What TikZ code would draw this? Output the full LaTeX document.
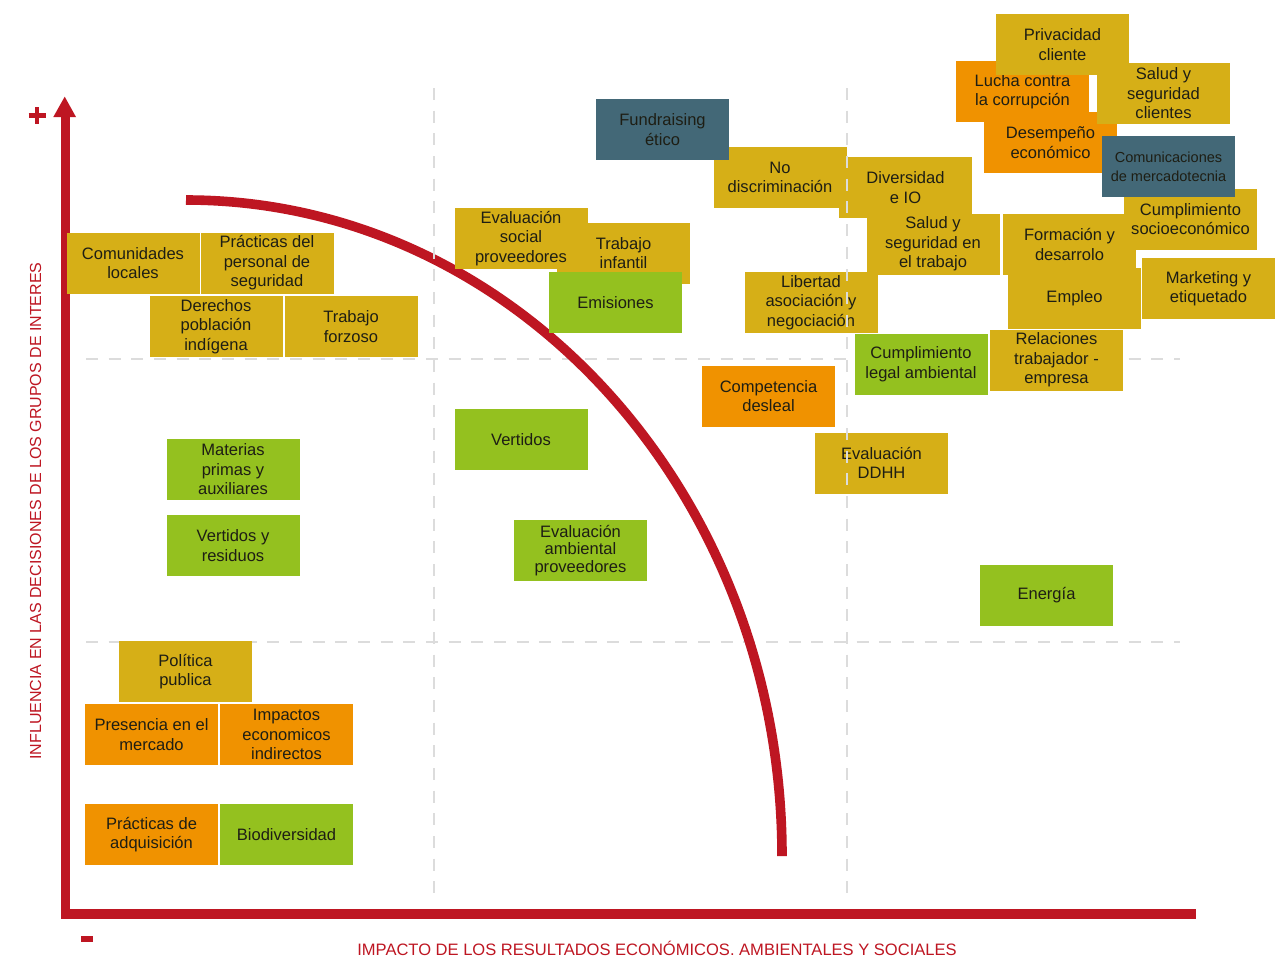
\documentclass[tikz,border=0pt]{standalone}
\usepackage{fontspec}
\setmainfont{Liberation Sans}
\definecolor{gold}{HTML}{D6AF17}
\definecolor{orng}{HTML}{F09200}
\definecolor{grn}{HTML}{94C11F}
\definecolor{tealbox}{HTML}{436877}
\definecolor{axred}{HTML}{BE1622}
\definecolor{gridgray}{HTML}{DCDCDC}
\definecolor{txt}{HTML}{1E1E14}
\tikzset{
  box/.style={minimum width=99.75pt, minimum height=45.75pt, inner sep=0pt, align=center, text=txt,
    font=\fontsize{12.4pt}{14.6pt}\selectfont},
  goldbox/.style={box, fill=gold},
  orbox/.style={box, fill=orng},
  grbox/.style={box, fill=grn},
  tlbox/.style={box, fill=tealbox},
  gridline/.style={draw=gridgray, line width=1.5pt, dash pattern=on 9pt off 8pt},
  axisline/.style={draw=axred, line width=7.2pt},
  axislabel/.style={text=axred, inner sep=0pt, font=\fontsize{12pt}{14pt}\selectfont},
}
\begin{document}
\begin{tikzpicture}[x=0.75pt, y=-0.75pt]
\useasboundingbox (0,0) rectangle (1281,957);
\fill[white] (0,0) rectangle (1281,957);

% horizontal grid lines (under boxes)
\coordinate (h1a) at (86,358.5);  \coordinate (h1b) at (1180,358.5);
\coordinate (h2a) at (86,641.5);  \coordinate (h2b) at (1180,641.5);
\draw[gridline] (h1a) -- (h1b);
\draw[gridline] (h2a) -- (h2b);

% materiality curve
\coordinate (cs) at (186,200);
\coordinate (ce) at (782,856);
\draw[draw=axred, line width=7.2pt] (cs) .. controls (515.2,200) and (782,493.7) .. (ce);

% axes
\coordinate (ytop) at (65.3,116);
\coordinate (orig) at (65.3,914);
\coordinate (xend) at (1196,914);
\draw[axisline, miter limit=4] (ytop) -- (orig) -- (xend);
\fill[axred] (53.3,117) -- (76,117) -- (64.7,96.7) -- cycle;
\draw[draw=axred, line width=3.2pt] (28.5,115.5) -- (45.5,115.5) (37,107) -- (37,124);
\fill[axred] (81,936) rectangle (93,942);

\node[axislabel, rotate=90] (ylab) at (35.5,511) {INFLUENCIA EN LAS DECISIONES DE LOS GRUPOS DE INTERES};
\node[axislabel, anchor=base, font=\fontsize{12.4pt}{14pt}\selectfont] (xlab) at (657,955) {IMPACTO DE LOS RESULTADOS ECONÓMICOS. AMBIENTALES Y SOCIALES};

% boxes
\node[goldbox] (comunidades) at (133,263) {Comunidades\\locales};
\node[goldbox] (practseg) at (267,263) {Prácticas del\\personal de\\seguridad};
\node[goldbox] (derechos) at (216,326.5) {Derechos\\población\\indígena};
\node[goldbox] (forzoso) at (351,326.5) {Trabajo\\forzoso};

\node[grbox] (materias) at (233,469.5) {Materias\\primas y\\auxiliares};
\node[grbox] (vertres) at (233,545.5) {Vertidos y\\residuos};

\node[goldbox] (politica) at (185.5,671.5) {Política\\publica};
\node[orbox] (presencia) at (151.5,734.5) {Presencia en el\\mercado};
\node[orbox] (impactos) at (286.5,734.5) {Impactos\\economicos\\indirectos};
\node[orbox] (adquisicion) at (151.5,834.5) {Prácticas de\\adquisición};
\node[grbox] (biodiv) at (286.5,834.5) {Biodiversidad};

\node[goldbox] (trabinf) at (623.5,253) {Trabajo\\infantil};
\node[goldbox] (evalsoc) at (521,238.5) {Evaluación\\social\\proveedores};
\node[grbox] (emisiones) at (615.5,302.5) {Emisiones};
\node[grbox] (vertidos) at (521,439.5) {Vertidos};
\node[grbox, font=\fontsize{12.4pt}{13.1pt}\selectfont] (evalamb) at (580.5,550.5) {Evaluación\\ambiental\\proveedores};

\node[goldbox] (nodisc) at (780,177.5) {No\\discriminación};
\node[tlbox] (fundraising) at (662.5,129.5) {Fundraising\\ético};
\node[goldbox] (diver) at (905.5,187.5) {Diversidad\\e IO};
\node[goldbox] (saludtrab) at (933,244) {Salud y\\seguridad en\\el trabajo};
\node[goldbox] (libertad) at (811,302.5) {Libertad\\asociación y\\negociación};
\node[orbox] (competencia) at (768.5,396) {Competencia\\desleal};
\node[goldbox] (ddhh) at (881.5,463) {Evaluación\\DDHH};
\node[grbox] (cumpleg) at (921,364) {Cumplimiento\\legal ambiental};
\node[goldbox] (relaciones) at (1056.5,360) {Relaciones\\trabajador -\\empresa};
\node[grbox] (energia) at (1046.5,595.5) {Energía};

\node[goldbox] (formacion) at (1069.5,244.5) {Formación y\\desarrolo};
\node[goldbox] (empleo) at (1074.5,298) {Empleo};
\node[goldbox] (marketing) at (1208.5,288.5) {Marketing y\\etiquetado};
\node[orbox] (desempeno) at (1050.5,142.5) {Desempeño\\económico};
\node[orbox] (lucha) at (1022.5,91.5) {Lucha contra\\la corrupción};
\node[goldbox] (priv) at (1062.5,44.5) {Privacidad\\cliente};
\node[goldbox] (saludcli) at (1163.5,93.5) {Salud y\\seguridad\\clientes};
\node[goldbox] (cumpsoc) at (1190.5,219) {Cumplimiento\\socioeconómico};
\node[tlbox, font=\fontsize{10.9pt}{14.3pt}\selectfont] (comunic) at (1168.5,166.5) {Comunicaciones\\de mercadotecnia};

% vertical grid lines (over boxes)
\coordinate (v1a) at (433.5,88);  \coordinate (v1b) at (433.5,893);
\coordinate (v2a) at (846.5,88);  \coordinate (v2b) at (846.5,893);
\draw[gridline] (v1a) -- (v1b);
\draw[gridline] (v2a) -- (v2b);
\end{tikzpicture}
\end{document}
